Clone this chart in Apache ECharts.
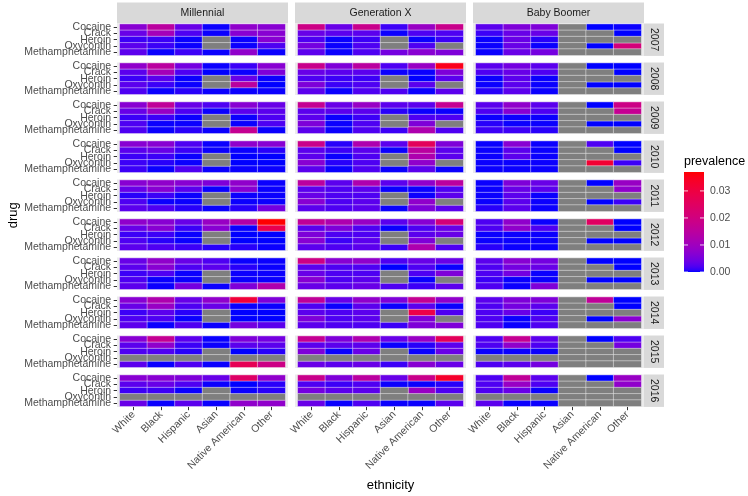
<!DOCTYPE html>
<html><head><meta charset="utf-8">
<script src="https://cdn.jsdelivr.net/npm/echarts@6/dist/echarts.min.js"></script>
<style>html,body{margin:0;padding:0;background:#fff}#c{width:748px;height:496px}</style>
</head><body><div id="c"></div><script>
const ethnicities = ['White','Black','Hispanic','Asian','Native American','Other'];
const drugs = ['Cocaine','Crack','Heroin','Oxycontin','Methamphetamine'];
const generations = ['Millennial','Generation X','Baby Boomer'];
const years = ['2007','2008','2009','2010','2011','2012','2013','2014','2015','2016'];
const legendBreaks = [0, 0.01, 0.02, 0.03];
const N = null;
// year -> drug rows -> ethnicity columns
const millennial = [
 [[0.0068,0.0148,0.0037,0.0002,0.0078,0.0068],[0.0037,0.011,0.002,0.0002,0.0068,0.0068],[0.0012,0.0012,0.0002,N,0.0002,0.0068],[0.0028,0.0012,0.0002,N,0.0002,0.002],[0.0028,0.0002,0.0012,0.0002,0.0078,0.0002]],
 [[0.0078,0.0148,0.0047,0.0002,0.0012,0.0068],[0.0028,0.011,0.002,0,0.0002,0.0058],[0.0012,0.0028,0.0002,N,0.0037,0.0002],[0.0028,0.0012,0.0002,N,0.0148,0],[0.002,0.0002,0.0007,0.0002,0.0002,0.0002]],
 [[0.0068,0.016,0.0037,0.002,0.0068,0.0037],[0.0037,0.009,0.002,0.0002,0.0028,0.0028],[0.0012,0.0012,0.0002,N,0.0002,0.002],[0.002,0.0002,0.0002,N,0.0002,0.002],[0.002,0.0002,0.0007,0.0002,0.017,0.0002]],
 [[0.0068,0.0068,0.002,0.0002,0.0078,0.0068],[0.0028,0.0037,0.0012,0.0002,0.0002,0.0007],[0.0012,0.0012,0.0002,N,0,0],[0.0012,0.0007,0.0002,N,0,0],[0.0012,0.0002,0.002,0.0002,0.0002,0.0002]],
 [[0.0068,0.0078,0.0068,0.0058,0.0078,0.0002],[0.0037,0.0068,0.0028,0.0002,0.0068,0.0002],[0.0007,0.0012,0.0002,N,0.0002,0.0002],[0.002,0.0002,0.0002,N,0.0002,0.0002],[0.0028,0.002,0.0007,0.0002,0.0007,0.0047]],
 [[0.0078,0.0068,0.0037,0.009,0.0135,0.037],[0.0037,0.0068,0.0012,0.0068,0.0002,0.028],[0.0012,0.0012,0.0002,N,0,0],[0.002,0.0007,0.0002,N,0,0],[0.0028,0.002,0.0012,0.0007,0.0007,0.0002]],
 [[0.0037,0.0078,0.0037,0.002,0.0002,0.0002],[0.0028,0.0068,0.002,0.0028,0.0007,0.0002],[0.0012,0.002,0.0002,N,0.0002,0.0002],[0.002,0.0002,0.0002,N,0.0002,0.0002],[0.0028,0.0002,0.0047,0.0002,0.0058,0.0125]],
 [[0.0068,0.0125,0.0037,0.0078,0.031,0.0058],[0.0037,0.009,0.002,0.0037,0.0002,0.0002],[0.0012,0.0028,0.0007,N,0,0],[0.002,0.002,0.0002,N,0,0],[0.0028,0.0002,0.002,0.0002,0.0047,0.0028]],
 [[0.0068,0.017,0.0028,0.0002,0.0058,0.0047],[0.0028,0.0078,0.0012,0.0002,0.0028,0.0028],[0.002,0.002,0.0007,N,0,0.0007],[N,N,N,N,N,N],[0.0028,0.0002,0.002,0.0002,0.027,0.019]],
 [[0.0068,0.0068,0.0058,0.0037,0.024,0.0078],[0.0028,0.0037,0.002,0.0002,0,0.0007],[0.0012,0.0012,0.0002,N,0.0002,0.0007],[N,N,N,N,N,N],[0.0037,0.0002,0.0028,0.0002,0.0078,0.0078]]
];
const generationX = [
 [[0.019,0.0037,0.018,0.0012,0.009,0.018],[0.0037,0.0028,0.0028,0.0002,0.002,0.002],[0.002,0.0002,0.0012,N,0.0002,0.0012],[0.0047,0.0002,0.002,N,0.002,N],[0.0028,0.0002,0.002,0.0047,0.0068,0.0058]],
 [[0.018,0.0058,0.0148,0.002,0.009,0.035],[0.0037,0.0028,0.0028,0.0002,0.0002,0.0058],[0.002,0.0012,0.0012,N,0,0.0028],[0.0058,0.0012,0.002,N,0.0028,N],[0.0028,0.0002,0.002,0.002,0.0002,0.0028]],
 [[0.017,0.0037,0.009,0.0028,0.0028,0.017],[0.0028,0.0028,0.0028,0.0007,0.0002,0.0002],[0.0028,0.0002,0.0012,N,0.002,0.002],[0.0058,0.0002,0.002,N,0.0058,N],[0.0028,0.0002,0.002,0.0012,0.0125,0.002]],
 [[0.018,0.0007,0.0125,0.0028,0.026,0.0058],[0.0028,0.0012,0.0028,0.0002,0.0148,0.0028],[0.0028,0.0002,0.002,N,0.0125,0.0028],[0.0068,0.0007,0.002,N,0.0078,N],[0.0028,0.0002,0.002,0.0002,0.0028,0.0002]],
 [[0.0148,0.0028,0.0125,0.0028,0.0078,0.0148],[0.0028,0.002,0.0028,0.0002,0.0002,0.002],[0.0037,0.002,0.002,N,0.0002,0.0028],[0.0068,0.002,0.0028,N,0.0078,N],[0.0028,0.002,0.0028,0.0002,0.0058,0.0028]],
 [[0.016,0.0125,0.009,0.0028,0.0068,0.021],[0.0028,0.0058,0.002,0.0002,0.002,0.0037],[0.0058,0.002,0.002,N,0.0028,0.0037],[0.0068,0.0012,0.0028,N,0.0058,N],[0.0028,0.002,0.0028,0.0012,0.0125,0.002]],
 [[0.019,0.0068,0.0078,0.002,0.0037,0.0037],[0.0028,0.002,0.002,0,0.002,0.0002],[0.0037,0.002,0.002,N,0.002,0.0058],[0.0068,0.002,0.0028,N,0.0002,N],[0.0037,0.0028,0.0037,0.002,0.0012,0.0028]],
 [[0.016,0.0037,0.0078,0.0058,0.017,0.0078],[0.002,0.0002,0.0028,0.0002,0.0028,0.0002],[0.0028,0.002,0.0028,N,0.029,0.002],[0.0058,0.002,0.0028,N,0.0058,N],[0.0028,0.002,0.002,0.0012,0.0058,0.0058]],
 [[0.017,0.0058,0.0125,0.0037,0.009,0.026],[0.0028,0.0028,0.0028,0.0002,0.0007,0.0028],[0.0058,0.0002,0.0037,N,0.0002,0.0037],[N,N,N,N,N,N],[0.0037,0.0028,0.0037,0.0012,0.0068,0.0037]],
 [[0.018,0.0058,0.0148,0.0037,0.018,0.033],[0.002,0.0012,0.002,0.0002,0.0002,0.0007],[0.0047,0.0028,0.0028,N,0.009,0.002],[N,N,N,N,N,N],[0.0037,0.0002,0.002,0.0002,0.0002,0.0028]]
];
const babyBoomer = [
 [[0.0028,0.0058,0.0058,N,0,0.0002],[0.0012,0.0037,0.0037,N,N,0],[0.0002,0.0037,0.0007,N,N,N],[0.0002,0.0037,0.0002,N,0,0.021],[0.0002,0.0037,0.0047,N,N,N]],
 [[0.0028,0.0047,0.0028,N,0,0],[0.002,0.0037,0.002,N,N,0],[0.0002,0.0028,0.0002,N,N,N],[0.0002,0.0028,0.0002,N,0,0],[0.0007,0.0028,0.0002,N,N,N]],
 [[0.0028,0.0078,0.0028,N,0,0.019],[0.002,0.0068,0.002,N,N,0.017],[0.0002,0.0002,0.0002,N,N,N],[0.0007,0.0002,0.0002,N,0,0],[0.0012,0.0012,0.0007,N,N,N]],
 [[0.0002,0.0068,0.0002,N,0.002,0],[0.0002,0.0028,0.0002,N,N,0],[0.0002,0.0028,0.0002,N,N,N],[0.0002,0.0002,0.0002,N,0.032,0.0012],[0.0002,0.0002,0.0002,N,N,N]],
 [[0.0002,0.0058,0.0037,N,0,0.009],[0.0002,0.0037,0.0028,N,N,0.0078],[0.0002,0.0028,0.0002,N,N,N],[0.0002,0.0028,0.0002,N,0,0.0012],[0.0007,0.0028,0.0002,N,N,N]],
 [[0.002,0.0078,0.0002,N,0.025,0],[0.002,0.0078,0.002,N,N,0],[0.0002,0.0002,0.0002,N,N,N],[0.0002,0.0002,0.0002,N,0,0],[0.0007,0.0002,0.0002,N,N,N]],
 [[0.0028,0.0068,0.0047,N,0,0],[0.002,0.0047,0.0037,N,N,0],[0.002,0.0047,0.0002,N,N,N],[0.0012,0.0002,0.0002,N,0,0],[0.002,0.0002,0.0058,N,N,N]],
 [[0.0028,0.0058,0.0058,N,0.016,0],[0.002,0.0047,0.0028,N,N,0],[0.002,0.0037,0.0012,N,N,N],[0.002,0.0002,0.002,N,0,0.0068],[0.002,0.0002,0.002,N,N,N]],
 [[0.002,0.017,0.0028,N,0,0.002],[0.002,0.0078,0.002,N,N,0.0047],[0.0002,0.0002,0.0002,N,N,N],[N,N,N,N,N,N],[0.002,0.0028,0.0047,N,N,N]],
 [[0.002,0.016,0.0028,N,0,0.009],[0.002,0.009,0.002,N,N,0.0078],[0.002,0.0037,0.0002,N,N,N],[N,N,N,N,N,N],[0.0028,0.0002,0.0002,N,N,N]]
];
const byGeneration = [millennial, generationX, babyBoomer];

// ---- colour scale: blue -> red interpolated in CIELAB (like ggplot) ----
function toLin(c){c/=255;return c<=0.04045?c/12.92:Math.pow((c+0.055)/1.055,2.4);}
function fromLin(v){v=Math.min(1,Math.max(0,v));return Math.round(255*(v<=0.0031308?12.92*v:1.055*Math.pow(v,1/2.4)-0.055));}
function rgb2lab(r,g,b){const R=toLin(r),G=toLin(g),B=toLin(b);
  const X=(0.4124*R+0.3576*G+0.1805*B)/0.95047,Y=0.2126*R+0.7152*G+0.0722*B,Z=(0.0193*R+0.1192*G+0.9505*B)/1.08883;
  const f=t=>t>0.008856?Math.cbrt(t):7.787*t+16/116;
  const fx=f(X),fy=f(Y),fz=f(Z);return [116*fy-16,500*(fx-fy),200*(fy-fz)];}
function lab2rgb(L,a,b){const fy=(L+16)/116,fx=fy+a/500,fz=fy-b/200;
  const fi=t=>t*t*t>0.008856?t*t*t:(t-16/116)/7.787;
  const X=fi(fx)*0.95047,Y=fi(fy),Z=fi(fz)*1.08883;
  const R=3.2406*X-1.5372*Y-0.4986*Z,G=-0.9689*X+1.8758*Y+0.0415*Z,B=0.0557*X-0.2040*Y+1.0570*Z;
  return 'rgb('+fromLin(R)+','+fromLin(G)+','+fromLin(B)+')';}
const lowLab=rgb2lab(0,0,255), highLab=rgb2lab(255,0,0);
const rampColors=[];
for(let i=0;i<=40;i++){const t=i/40;rampColors.push(lab2rgb(lowLab[0]+(highLab[0]-lowLab[0])*t,lowLab[1]+(highLab[1]-lowLab[1])*t,lowLab[2]+(highLab[2]-lowLab[2])*t));}
let vmax=0; byGeneration.forEach(g=>g.forEach(y=>y.forEach(r=>r.forEach(v=>{if(v!==null&&v>vmax)vmax=v;}))));

// ---- layout ----
const FONT='"Liberation Sans", Arial, Helvetica, sans-serif';
const L={left0:117,colPitch:178,panelW:171,top0:23.5,rowPitch:39,panelH:32.4,stripTop:2.5,stripH:21,rStripW:20};
const mx=L.panelW*0.1/6.2, my=L.panelH*0.1/5.2;
const grids=[],xAxes=[],yAxes=[],series=[],graphics=[],valueIdx=[],naIdx=[];
let gi=0;
generations.forEach((gen,c)=>{
  const px=L.left0+c*L.colPitch;
  graphics.push({type:'rect',z:0,shape:{x:px,y:L.stripTop,width:L.panelW,height:L.stripH},style:{fill:'#D9D9D9'}});
  graphics.push({type:'text',z:1,x:px+L.panelW/2,y:L.stripTop+L.stripH/2,style:{text:gen,fill:'#1A1A1A',font:'10.5px '+FONT,align:'center',verticalAlign:'middle',textAlign:'center',textVerticalAlign:'middle'}});
  years.forEach((yr,r)=>{
    const py=L.top0+r*L.rowPitch;
    graphics.push({type:'rect',z:0,shape:{x:px,y:py,width:L.panelW,height:L.panelH},style:{fill:'#EBEBEB'}});
    grids.push({left:px+mx,top:py+my,width:L.panelW-2*mx,height:L.panelH-2*my});
    const bottom=(r===years.length-1), left=(c===0);
    xAxes.push({type:'category',gridIndex:gi,data:ethnicities,offset:my,
      axisLine:{show:false},splitLine:{show:false},
      axisTick:{show:bottom,length:3.3,alignWithLabel:true,lineStyle:{color:'#333333',width:1}},
      axisLabel:{show:bottom,rotate:45,interval:0,margin:6,fontSize:10.5,fontFamily:FONT,color:'#4D4D4D'}});
    yAxes.push({type:'category',gridIndex:gi,data:drugs,inverse:true,offset:mx,
      axisLine:{show:false},splitLine:{show:false},
      axisTick:{show:left,length:3.3,alignWithLabel:true,lineStyle:{color:'#333333',width:1}},
      axisLabel:{show:left,interval:0,margin:5.9,fontSize:10.5,fontFamily:FONT,color:'#4D4D4D'}});
    const vals=[],nas=[];
    const block=byGeneration[c][r];
    drugs.forEach((d,i)=>ethnicities.forEach((e,j)=>{const v=block[i][j]; if(v===null) nas.push([j,i,0]); else vals.push([j,i,v]);}));
    valueIdx.push(series.length);
    series.push({type:'heatmap',xAxisIndex:gi,yAxisIndex:gi,data:vals,itemStyle:{borderColor:'rgba(255,255,255,0.85)',borderWidth:0.5},emphasis:{disabled:true},silent:true});
    naIdx.push(series.length);
    series.push({type:'heatmap',xAxisIndex:gi,yAxisIndex:gi,data:nas,itemStyle:{borderColor:'rgba(255,255,255,0.85)',borderWidth:0.5},emphasis:{disabled:true},silent:true});
    gi++;
  });
});
// right-hand year strips
const rsx=L.left0+2*L.colPitch+L.panelW;
years.forEach((yr,r)=>{
  const py=L.top0+r*L.rowPitch;
  graphics.push({type:'rect',z:0,shape:{x:rsx,y:py,width:L.rStripW,height:L.panelH},style:{fill:'#D9D9D9'}});
  graphics.push({type:'text',z:1,x:rsx+L.rStripW/2,y:py+L.panelH/2,rotation:-Math.PI/2,style:{text:yr,fill:'#1A1A1A',font:'10.5px '+FONT,align:'center',verticalAlign:'middle',textAlign:'center',textVerticalAlign:'middle'}});
});
// axis titles
const panelsTop=L.top0, panelsBottom=L.top0+(years.length-1)*L.rowPitch+L.panelH;
graphics.push({type:'text',z:1,x:13,y:(panelsTop+panelsBottom)/2,rotation:Math.PI/2,style:{text:'drug',fill:'#000',font:'13px '+FONT,align:'center',verticalAlign:'middle',textAlign:'center',textVerticalAlign:'middle'}});
graphics.push({type:'text',z:1,x:(L.left0+rsx+L.rStripW)/2,y:485,style:{text:'ethnicity',fill:'#000',font:'13px '+FONT,align:'center',verticalAlign:'middle',textAlign:'center',textVerticalAlign:'middle'}});
// legend colour bar
const CB={x:684,y:172,w:20,h:100};
graphics.push({type:'text',z:1,x:CB.x,y:162,style:{text:'prevalence',fill:'#000',font:'12.5px '+FONT,align:'left',verticalAlign:'middle',textAlign:'left',textVerticalAlign:'middle'}});
const stops=rampColors.map((col,i)=>({offset:i/(rampColors.length-1),color:col}));
graphics.push({type:'rect',z:1,shape:{x:CB.x,y:CB.y,width:CB.w,height:CB.h},style:{fill:new echarts.graphic.LinearGradient(0,1,0,0,stops)}});
legendBreaks.forEach(b=>{
  const yy=CB.y+CB.h-b/vmax*CB.h;
  graphics.push({type:'line',z:2,shape:{x1:CB.x,y1:yy,x2:CB.x+CB.w/5,y2:yy},style:{stroke:'#fff',lineWidth:0.8}});
  graphics.push({type:'line',z:2,shape:{x1:CB.x+CB.w*4/5,y1:yy,x2:CB.x+CB.w,y2:yy},style:{stroke:'#fff',lineWidth:0.8}});
  graphics.push({type:'text',z:1,x:CB.x+CB.w+6,y:yy,style:{text:b.toFixed(2),fill:'#4D4D4D',font:'10.5px '+FONT,align:'left',verticalAlign:'middle',textAlign:'left',textVerticalAlign:'middle'}});
});

const chart=echarts.init(document.getElementById('c'),null,{renderer:'canvas'});
chart.setOption({
  animation:false,
  backgroundColor:'#ffffff',
  grid:grids, xAxis:xAxes, yAxis:yAxes,
  visualMap:[
    {type:'continuous',show:false,min:0,max:vmax,dimension:2,seriesIndex:valueIdx,inRange:{color:rampColors}},
    {type:'continuous',show:false,min:-1,max:1,dimension:2,seriesIndex:naIdx,inRange:{color:['#7F7F7F','#7F7F7F']}}
  ],
  series:series,
  graphic:{elements:graphics}
});
</script></body></html>
